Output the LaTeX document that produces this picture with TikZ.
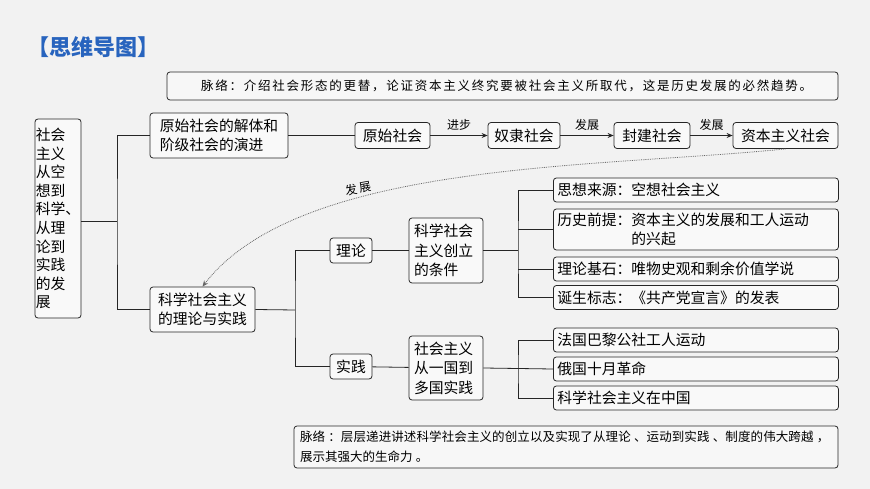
\documentclass[tikz,border=0pt]{standalone}
\usepackage{fontspec}
\setmainfont{Noto Sans CJK SC}
\XeTeXlinebreaklocale "zh"
\XeTeXlinebreakskip=0pt plus 1pt
\usetikzlibrary{arrows.meta}
\begin{document}
\begin{tikzpicture}[x=1pt,y=-1pt,
  bx/.style={draw=black!85,line width=0.8pt,rounded corners=3pt,fill=white!60!gray!12,inner sep=0pt,font=\fontsize{14.8}{19.5}\selectfont,align=left},
  ln/.style={draw=black!85,line width=0.8pt},
  ar/.style={draw=black!85,line width=0.8pt,-{Stealth[length=6pt,width=5pt]}},
  lb/.style={font=\fontsize{12}{14}\selectfont},
  note/.style={draw=black!85,line width=0.8pt,rounded corners=3pt,fill=gray!6,font=\fontsize{12.5}{20}\selectfont,align=left,inner sep=0pt}]
\useasboundingbox[fill=gray!10] (0,0) rectangle (870,489);
\node[font=\fontsize{22}{24}\selectfont\bfseries,text={rgb,255:red,40;green,100;blue,190},anchor=west] (title) at (24,47) {【思维导图】};
\node[note,minimum width=671,minimum height=28] (n1) at (502.5,86) {\hspace*{8pt}\addfontfeature{LetterSpace=14}脉络：介绍社会形态的更替，论证资本主义终究要被社会主义所取代，这是历史发展的必然趋势。\hfill};
\node[bx,minimum width=46,minimum height=199,font=\fontsize{14.8}{18.6}\selectfont] (root) at (58,218.5) {社会\\主义\\从空\\想到\\科学、\\从理\\论到\\实践\\的发\\展};
\node[bx,minimum width=138,minimum height=45] (A) at (219,135.5) {原始社会的解体和\\阶级社会的演进};
\node[bx,minimum width=105,minimum height=45] (B) at (202.5,309.5) {科学社会主义\\的理论与实践};
\node[bx,minimum width=75,minimum height=26] (c1) at (392.5,135.5) {原始社会};
\node[bx,minimum width=72,minimum height=26] (c2) at (524,135.5) {奴隶社会};
\node[bx,minimum width=76,minimum height=26] (c3) at (652,135.5) {封建社会};
\node[bx,minimum width=105,minimum height=26] (c4) at (785.5,135.5) {资本主义社会};
\draw[ar] (c1) -- node[lb,above=1pt]{进步} (c2);
\draw[ar] (c2) -- node[lb,above=1pt]{发展} (c3);
\draw[ar] (c3) -- node[lb,above=1pt]{发展} (c4);
\draw[ln] (A) -- (c1);
\coordinate (j1) at (117,221);
\draw[ln] (root.east |- j1) -- (j1);
\draw[ln] (A.west) -| (j1) |- (B.west);
\draw[densely dotted,draw=black!60,line width=0.8pt,-{Stealth[length=6pt,width=5pt]}] (c4.south) .. controls (600,168) and (300,160) .. (B.north) node[pos=0.66,lb,above,rotate=10]{发\,展};
\node[bx,minimum width=42,minimum height=25] (t) at (351,250.5) {理论};
\node[bx,minimum width=42,minimum height=25] (p) at (351,366.5) {实践};
\coordinate (j2) at (295,310);
\draw[ln] (B.east) -- (j2);
\draw[ln] (t.west) -| (j2) |- (p.west);
\node[bx,minimum width=74,minimum height=65,text width=64] (tc) at (446,250.5) {科学社会\\主义创立\\的条件};
\node[bx,minimum width=74,minimum height=64,text width=64] (pc) at (446,368) {社会主义\\从一国到\\多国实践};
\draw[ln] (t) -- (tc);
\draw[ln] (p) -- (pc);
\tikzset{it/.style={bx,minimum width=285,anchor=west,text width=277}}
\node[it,minimum height=24] (i1) at (553,190) {思想来源：空想社会主义};
\node[it,minimum height=41] (i2) at (553,229.5) {历史前提：资本主义的发展和工人运动\\\hspace*{74pt}的兴起};
\node[it,minimum height=24] (i3) at (553,269) {理论基石：唯物史观和剩余价值学说};
\node[it,minimum height=24] (i4) at (553,297.5) {诞生标志：《共产党宣言》的发表};
\node[it,minimum height=24] (k1) at (553,340) {法国巴黎公社工人运动};
\node[it,minimum height=24] (k2) at (553,369) {俄国十月革命};
\node[it,minimum height=24] (k3) at (553,398) {科学社会主义在中国};
\coordinate (j3) at (518,250.5);
\draw[ln] (tc.east) -- (j3);
\draw[ln] (i1.west) -| (j3) |- (i4.west);
\draw[ln] (j3 |- i2.west) -- (i2.west);
\draw[ln] (j3 |- i3.west) -- (i3.west);
\coordinate (j4) at (518,369);
\draw[ln] (pc.east) -- (k2.west);
\draw[ln] (k1.west) -| (j4) |- (k3.west);
\node[note,minimum width=544,minimum height=42,text width=532] (n2) at (566,447) {\addfontfeature{LetterSpace=26}脉络：层层递进讲述科学社会主义的创立以及实现了从理论、运动到实践、制度的伟大跨越，展示其强大的生命力。};
\end{tikzpicture}
\end{document}
